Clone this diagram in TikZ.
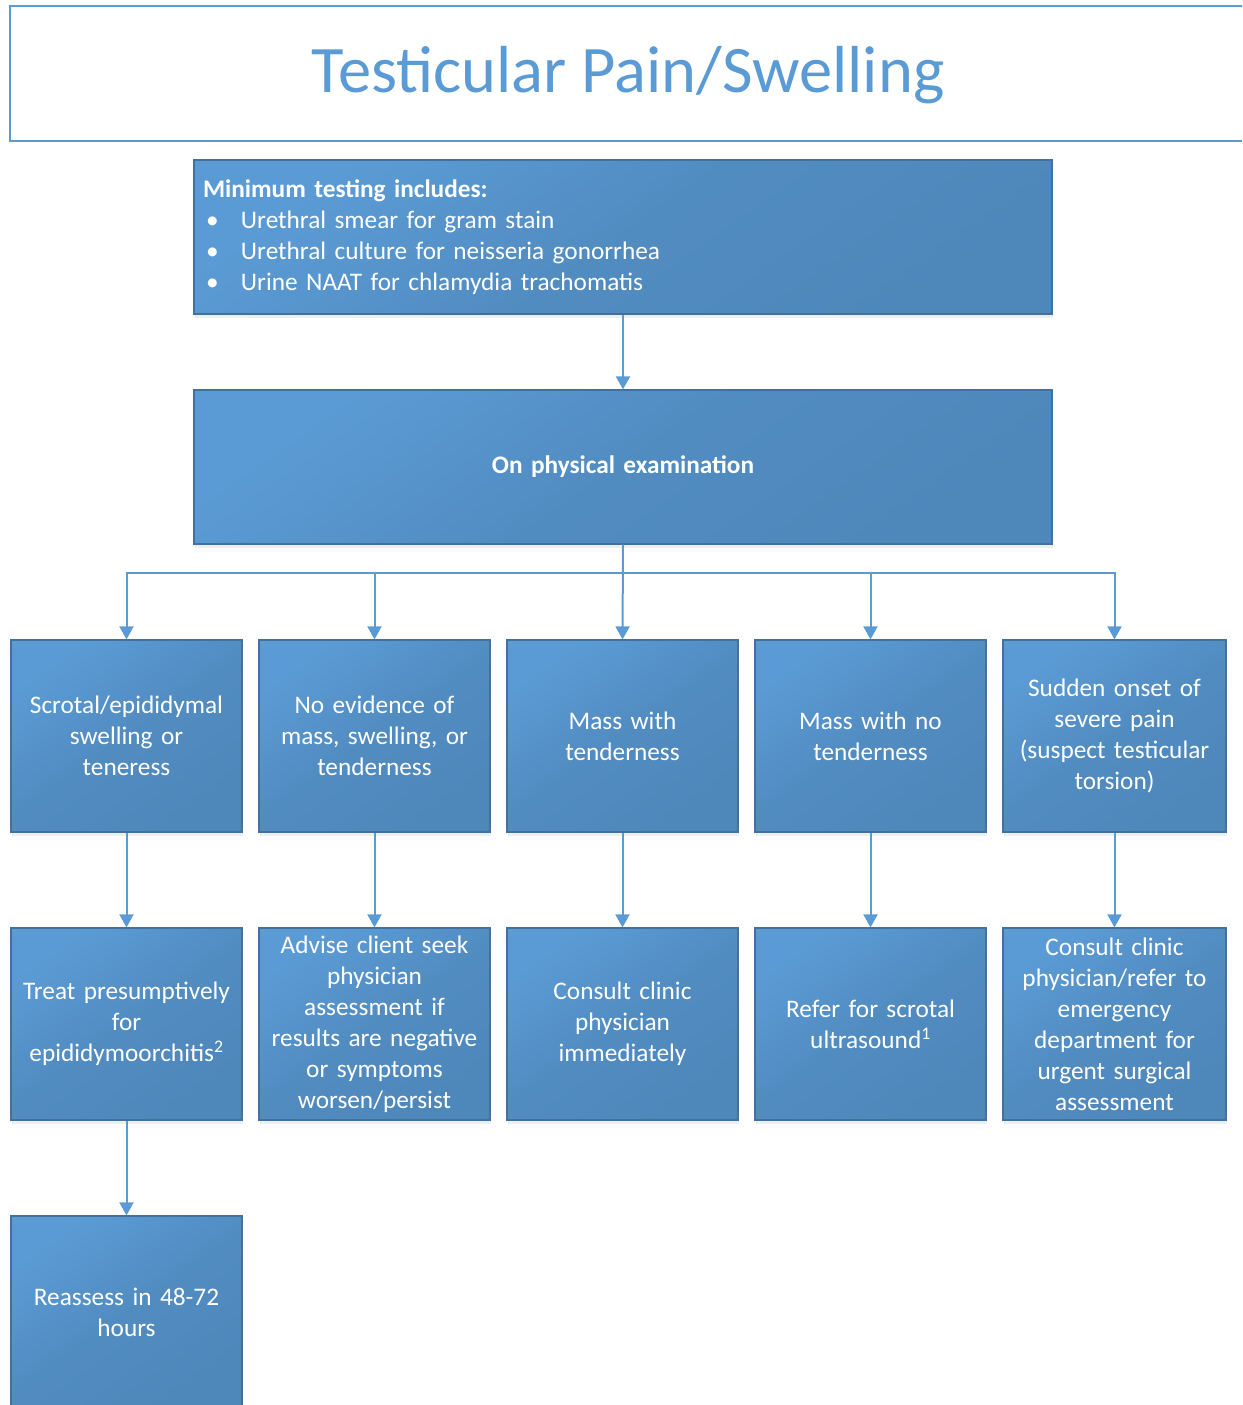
\documentclass[tikz,border=0pt]{standalone}
\usepackage{fontspec}
\setmainfont{Carlito}
\usetikzlibrary{arrows.meta,shadows,positioning}

\definecolor{bxlight}{HTML}{5B9BD5}
\definecolor{bxdark}{HTML}{4E87BA}
\definecolor{bxedge}{HTML}{41719C}
\definecolor{linkblue}{HTML}{5B9BD5}

\tikzset{
  flowbox/.style={
    draw=bxedge, line width=1.2pt,
    top color=bxlight, bottom color=bxdark, middle color=bxdark!75!bxlight,
    shading angle=35,
    text=white, align=center, inner xsep=2pt, inner ysep=4pt,
    font=\fontsize{25.3}{31}\selectfont,
    drop shadow={shadow xshift=1pt, shadow yshift=-4pt, opacity=0.18, fill=bxedge!60}
  },
  smallbox/.style={flowbox, minimum width=231pt, minimum height=192pt, text width=227pt},
  widebox/.style={flowbox, minimum width=858pt, minimum height=154pt, text width=840pt},
  conn/.style={draw=linkblue, line width=2pt,
    -{Triangle[length=13pt,width=14pt]}}
}

\begin{document}
\begin{tikzpicture}[x=1pt,y=-1pt]
  \useasboundingbox (0,0) rectangle (1242,1405);
  \clip (0,0) rectangle (1242,1405);

  % title frame (runs past the right edge)
  \draw[draw=linkblue, line width=2pt] (1270,6) -- (10,6) -- (10,141) -- (1270,141);
  \node[text=linkblue, font=\fontsize{66.5}{72}\selectfont] (title) at (628,75) {Testicular Pain/Swelling};

  % top boxes
  \node[widebox, align=left] (tests) at (623,237) {%
    \textbf{Minimum testing includes:}\\
    \hspace*{3pt}\makebox[35pt][l]{\textbullet}Urethral smear for gram stain\\
    \hspace*{3pt}\makebox[35pt][l]{\textbullet}Urethral culture for neisseria gonorrhea\\
    \hspace*{3pt}\makebox[35pt][l]{\textbullet}Urine NAAT for chlamydia trachomatis};
  \node[widebox] (exam) at (623,467) {\textbf{On physical examination}};

  % findings
  \node[smallbox] (f1) at (126.5,736) {Scrotal/epididymal\\swelling or\\teneress};
  \node[smallbox] (f2) at (374.5,736) {No evidence of\\mass, swelling, or\\tenderness};
  \node[smallbox] (f3) at (622.5,736) {Mass with\\tenderness};
  \node[smallbox] (f4) at (870.5,736) {Mass with no\\tenderness};
  \node[smallbox, minimum width=223pt, text width=219pt] (f5) at (1114.5,736) {Sudden onset of\\severe pain\\(suspect testicular\\torsion)};

  % actions
  \node[smallbox] (a1) at (126.5,1024) {Treat presumptively\\for\\epididymoorchitis\textsuperscript{2}};
  \node[smallbox] (a2) at (374.5,1024) {Advise client seek\\physician\\assessment if\\results are negative\\or symptoms\\worsen/persist};
  \node[smallbox] (a3) at (622.5,1024) {Consult clinic\\physician\\immediately};
  \node[smallbox] (a4) at (870.5,1024) {Refer for scrotal\\ultrasound\textsuperscript{1}};
  \node[smallbox, minimum width=223pt, text width=219pt] (a5) at (1114.5,1024) {Consult clinic\\physician/refer to\\emergency\\department for\\urgent surgical\\assessment};

  % follow-up
  \node[smallbox] (re) at (126.5,1312) {Reassess in 48-72\\hours};

  % connectors
  \coordinate (bus) at (623,573);
  \draw[conn] (tests) -- (exam);
  \draw[conn] (exam.south) -- (f3.north);
  \foreach \f in {f1,f2,f4,f5}
    \draw[conn] (exam.south) -- (exam.south |- bus) -| (\f.north);
  \foreach \i in {1,...,5}
    \draw[conn] (f\i) -- (a\i);
  \draw[conn] (a1) -- (re);
\end{tikzpicture}
\end{document}
